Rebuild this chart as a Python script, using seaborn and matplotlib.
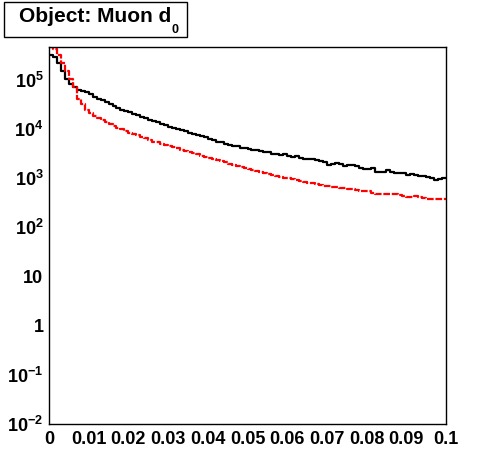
"""
Muon d0 distribution, ROOT-style log histogram
"""

import numpy as np
import pandas as pd
import matplotlib
matplotlib.use("Agg")
import matplotlib.pyplot as plt
import matplotlib.ticker as mticker
from matplotlib.patches import Rectangle
import seaborn as sns

# Binning
n_bins = 100
x_min, x_max = 0.0, 0.1

# Bin contents (100 bins of width 0.001)
black_counts = [
    3.3e5, 2.9e5, 2.2e5, 1.5e5, 1.03e5, 8.2e4, 7.1e4, 6.4e4, 6.1e4, 5.6e4,
    5.1e4, 4.6e4, 4.2e4, 3.85e4, 3.5e4, 3.2e4, 2.9e4, 2.75e4, 2.5e4, 2.35e4,
    2.2e4, 2.05e4, 1.9e4, 1.78e4, 1.66e4, 1.55e4, 1.44e4, 1.38e4, 1.28e4, 1.2e4,
    1.12e4, 1.05e4, 1.0e4, 9.5e3, 9.1e3, 8.5e3, 8.0e3, 7.5e3, 7.1e3, 6.8e3,
    6.2e3, 5.9e3, 5.6e3, 5.4e3, 5.0e3, 4.7e3, 4.6e3, 4.5e3, 4.2e3, 4.1e3,
    4.0e3, 3.7e3, 3.7e3, 3.55e3, 3.4e3, 3.4e3, 3.15e3, 3.15e3, 2.95e3, 3.1e3,
    2.8e3, 2.75e3, 2.8e3, 2.55e3, 2.45e3, 2.45e3, 2.5e3, 2.35e3, 2.2e3, 2.13e3,
    1.9e3, 2.0e3, 2.05e3, 2.0e3, 1.8e3, 1.85e3, 1.85e3, 1.8e3, 1.63e3, 1.52e3,
    1.58e3, 1.6e3, 1.35e3, 1.32e3, 1.35e3, 1.45e3, 1.32e3, 1.26e3, 1.3e3, 1.26e3,
    1.15e3, 1.2e3, 1.18e3, 1.1e3, 1.1e3, 1.05e3, 1.0e3, 0.93e3, 0.95e3, 1.02e3,
]
red_counts = [
    4.6e5, 4.2e5, 3.2e5, 2.2e5, 1.5e5, 1.03e5, 7.1e4, 4.2e4, 3.2e4, 2.4e4,
    2.1e4, 1.82e4, 1.66e4, 1.52e4, 1.38e4, 1.26e4, 1.15e4, 1.07e4, 1.0e4, 9.1e3,
    8.5e3, 7.9e3, 7.5e3, 7.0e3, 6.5e3, 6.0e3, 5.6e3, 5.4e3, 5.1e3, 4.8e3,
    4.5e3, 4.3e3, 4.1e3, 3.8e3, 3.55e3, 3.4e3, 3.2e3, 3.1e3, 2.9e3, 2.75e3,
    2.6e3, 2.45e3, 2.35e3, 2.23e3, 2.1e3, 2.0e3, 1.83e3, 1.75e3, 1.66e3, 1.6e3,
    1.52e3, 1.45e3, 1.39e3, 1.33e3, 1.3e3, 1.24e3, 1.19e3, 1.13e3, 1.08e3, 1.03e3,
    1.0e3, 960, 920, 870, 830, 810, 790, 750, 720, 700,
    690, 660, 660, 640, 630, 600, 600, 590, 560, 550,
    550, 500, 480, 480, 480, 490, 490, 470, 450, 430,
    410, 410, 430, 410, 390, 385, 385, 385, 385, 385,
]

title_main = "Object: Muon d"
title_sub = "0"
y_decades = [1e-2, 1e-1, 1, 10, 1e2, 1e3, 1e4, 1e5]
y_labels = [r"$\mathbf{10^{-2}}$", r"$\mathbf{10^{-1}}$", "1", "10",
            r"$\mathbf{10^{2}}$", r"$\mathbf{10^{3}}$", r"$\mathbf{10^{4}}$",
            r"$\mathbf{10^{5}}$"]
y_range = (1e-2, 4.7e5)

# Style
sns.set_style("white")
plt.rcParams['font.family'] = ['Liberation Sans', 'DejaVu Sans']
plt.rcParams['mathtext.fontset'] = 'custom'
plt.rcParams['mathtext.rm'] = 'Liberation Sans:bold'
plt.rcParams['mathtext.bf'] = 'Liberation Sans:bold'
plt.rcParams['mathtext.it'] = 'Liberation Sans:bold'

bin_width = (x_max - x_min) / n_bins
centers = x_min + bin_width * (np.arange(n_bins) + 0.5)
df = pd.DataFrame({
    'd0': np.concatenate([centers, centers]),
    'count': black_counts + red_counts,
    'sample': ['black'] * n_bins + ['red'] * n_bins,
})

fig = plt.figure(figsize=(4.96, 4.72), dpi=100)
ax = fig.add_axes([49 / 496, 48 / 472, 397 / 496, 377 / 472])
ax.set_yscale('log')

sns.histplot(data=df[df['sample'] == 'black'], x='d0', weights='count',
             bins=n_bins, binrange=(x_min, x_max), element='step', fill=False,
             color='black', linewidth=1.6, ax=ax)
sns.histplot(data=df[df['sample'] == 'red'], x='d0', weights='count',
             bins=n_bins, binrange=(x_min, x_max), element='step', fill=False,
             color='#ff0000', linewidth=1.6, linestyle=(0, (3, 0.8)), ax=ax)

ax.set_xlim(x_min, x_max)
ax.set_ylim(*y_range)
ax.set_xlabel('')
ax.set_ylabel('')

# x axis ticks
ax.xaxis.set_major_locator(mticker.MultipleLocator(0.01))
ax.xaxis.set_minor_locator(mticker.MultipleLocator(0.002))
ax.xaxis.set_major_formatter(mticker.FuncFormatter(lambda v, p: f"{v:g}"))

# y axis ticks
ax.yaxis.set_major_locator(mticker.FixedLocator(y_decades))
ax.yaxis.set_major_formatter(mticker.FixedFormatter(y_labels))
ax.yaxis.set_minor_locator(mticker.LogLocator(base=10, subs=np.arange(2, 10), numticks=20))
ax.yaxis.set_minor_formatter(mticker.NullFormatter())

ax.tick_params(axis='both', which='both', direction='in', top=False, right=False,
               width=1, color='black', labelsize=13, labelcolor='black')
ax.tick_params(axis='y', which='major', length=12, pad=4)
ax.tick_params(axis='y', which='minor', length=6)
ax.tick_params(axis='x', which='major', length=11, pad=5)
ax.tick_params(axis='x', which='minor', length=5.5)
for lab in ax.get_xticklabels() + ax.get_yticklabels():
    lab.set_fontweight('bold')

for s in ax.spines.values():
    s.set_visible(True)
    s.set_color('black')
    s.set_linewidth(1)
ax.grid(False)

# Title box
fig.patches.append(Rectangle((4 / 496, 1 - 37 / 472), 183 / 496, 35 / 472,
                             transform=fig.transFigure, facecolor='white',
                             edgecolor='black', linewidth=1))
fig.text(19 / 496, 1 - 22 / 472, title_main, ha='left', va='baseline',
         fontsize=15, fontweight='bold', color='black')
fig.text(171 / 496, 1 - 33 / 472, title_sub, ha='left', va='baseline',
         fontsize=9, fontweight='bold', color='black')

fig.savefig('out.png', dpi=100)
